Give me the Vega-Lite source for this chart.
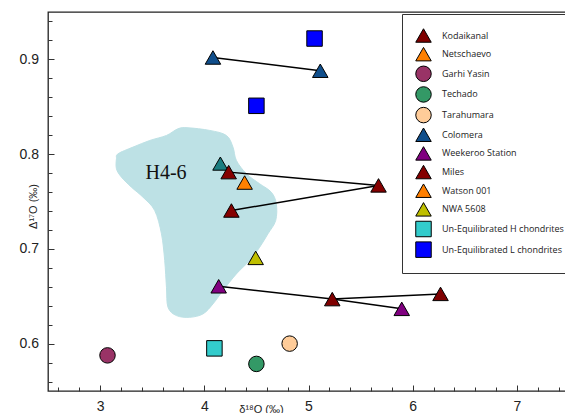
{
  "$schema": "https://vega.github.io/schema/vega-lite/v6.json",
  "width": 521,
  "height": 379,
  "autosize": {"type": "none"},
  "padding": {"left": 48, "top": 12, "right": 0, "bottom": 22},
  "background": "white",
  "datasets": {
    "blob": [
      {"i": 1, "x": 3.157, "y": 0.7951}, {"i": 2, "x": 3.173, "y": 0.8004}, {"i": 3, "x": 3.316, "y": 0.8074},
      {"i": 4, "x": 3.477, "y": 0.8144}, {"i": 5, "x": 3.637, "y": 0.8197}, {"i": 6, "x": 3.748, "y": 0.8268},
      {"i": 7, "x": 3.844, "y": 0.8278}, {"i": 8, "x": 4.052, "y": 0.825}, {"i": 9, "x": 4.212, "y": 0.8197},
      {"i": 10, "x": 4.275, "y": 0.8074}, {"i": 11, "x": 4.308, "y": 0.7933}, {"i": 12, "x": 4.404, "y": 0.7793},
      {"i": 13, "x": 4.531, "y": 0.7687}, {"i": 14, "x": 4.643, "y": 0.7598}, {"i": 15, "x": 4.691, "y": 0.7476},
      {"i": 16, "x": 4.685, "y": 0.7299}, {"i": 17, "x": 4.611, "y": 0.7159}, {"i": 18, "x": 4.531, "y": 0.7017},
      {"i": 19, "x": 4.435, "y": 0.6877}, {"i": 20, "x": 4.308, "y": 0.6736}, {"i": 21, "x": 4.179, "y": 0.656},
      {"i": 22, "x": 4.083, "y": 0.6419}, {"i": 23, "x": 3.988, "y": 0.6314}, {"i": 24, "x": 3.86, "y": 0.6278},
      {"i": 25, "x": 3.733, "y": 0.6296}, {"i": 26, "x": 3.652, "y": 0.6383}, {"i": 27, "x": 3.637, "y": 0.6595},
      {"i": 28, "x": 3.62, "y": 0.6877}, {"i": 29, "x": 3.589, "y": 0.7159}, {"i": 30, "x": 3.524, "y": 0.7405},
      {"i": 31, "x": 3.412, "y": 0.7545}, {"i": 32, "x": 3.301, "y": 0.7651}, {"i": 33, "x": 3.205, "y": 0.7757},
      {"i": 34, "x": 3.157, "y": 0.7845}
    ],
    "labels": [{"text": "H4-6", "x": 3.633, "y": 0.774}],
    "segments": [
      {"x": 4.083, "y": 0.902, "x2": 5.113, "y2": 0.888},
      {"x": 4.234, "y": 0.781, "x2": 5.672, "y2": 0.767},
      {"x": 4.26, "y": 0.7405, "x2": 5.672, "y2": 0.767},
      {"x": 4.138, "y": 0.6605, "x2": 5.228, "y2": 0.647},
      {"x": 5.228, "y": 0.647, "x2": 6.267, "y2": 0.6525},
      {"x": 5.228, "y": 0.647, "x2": 5.895, "y2": 0.6367}
    ],
    "extra": [{"name": "Unlabelled", "x": 4.154, "y": 0.79}],
    "points": [
      {"name": "Colomera", "x": 4.083, "y": 0.902},
      {"name": "Colomera", "x": 5.113, "y": 0.888},
      {"name": "Miles", "x": 4.234, "y": 0.781},
      {"name": "Netschaevo", "x": 4.387, "y": 0.77},
      {"name": "Miles", "x": 4.26, "y": 0.7405},
      {"name": "Miles", "x": 5.672, "y": 0.767},
      {"name": "NWA 5608", "x": 4.493, "y": 0.6905},
      {"name": "Weekeroo Station", "x": 4.138, "y": 0.6605},
      {"name": "Kodaikanal", "x": 5.228, "y": 0.647},
      {"name": "Kodaikanal", "x": 6.267, "y": 0.6525},
      {"name": "Weekeroo Station", "x": 5.895, "y": 0.6367},
      {"name": "Un-Equilibrated L chondrites", "x": 5.058, "y": 0.922},
      {"name": "Un-Equilibrated L chondrites", "x": 4.5, "y": 0.851},
      {"name": "Un-Equilibrated H chondrites", "x": 4.097, "y": 0.595},
      {"name": "Garhi Yasin", "x": 3.071, "y": 0.5876},
      {"name": "Techado", "x": 4.5, "y": 0.5786},
      {"name": "Tarahumara", "x": 4.819, "y": 0.6}
    ]
  },
  "encoding": {
    "x": {
      "field": "x", "type": "quantitative",
      "scale": {"domain": [2.5, 7.5], "nice": false, "zero": false},
      "axis": {
        "title": "δ¹⁸O (‰)",
        "values": [2.6, 2.8, 3, 3.2, 3.4, 3.6, 3.8, 4, 4.2, 4.4, 4.6, 4.8, 5, 5.2, 5.4, 5.6, 5.8, 6, 6.2, 6.4, 6.6, 6.8, 7, 7.2, 7.4],
        "labelExpr": "abs(datum.value - round(datum.value)) < 0.001 ? format(datum.value, 'd') : ''",
        "tickSize": {"condition": {"test": "abs(datum.value - round(datum.value)) < 0.001", "value": -6}, "value": -4},
        "labelPadding": 14,
        "titleX": 213, "titleY": 18, "titleAlign": "center", "titleBaseline": "middle"
      }
    },
    "y": {
      "field": "y", "type": "quantitative",
      "scale": {"domain": [0.55, 0.95], "nice": false, "zero": false},
      "axis": {
        "title": "Δ¹⁷O (‰)",
        "values": [0.56, 0.58, 0.6, 0.62, 0.64, 0.66, 0.68, 0.7, 0.72, 0.74, 0.76, 0.78, 0.8, 0.82, 0.84, 0.86, 0.88, 0.9, 0.92, 0.94],
        "labelExpr": "abs(datum.value * 10 - round(datum.value * 10)) < 0.001 ? format(datum.value, '.1f') : ''",
        "tickSize": {"condition": {"test": "abs(datum.value * 10 - round(datum.value * 10)) < 0.001", "value": -6}, "value": -4},
        "labelPadding": 15.5,
        "titleX": -15, "titleY": 194, "titleAlign": "center", "titleBaseline": "middle", "titleAngle": -90
      }
    }
  },
  "layer": [
    {
      "data": {"name": "blob"},
      "mark": {"type": "line", "fill": "#bde1e5", "stroke": "#bde1e5", "strokeWidth": 1, "interpolate": "cardinal-closed"},
      "encoding": {"order": {"field": "i", "type": "quantitative"}}
    },
    {
      "data": {"name": "labels"},
      "mark": {"type": "text", "font": "Liberation Serif", "fontSize": 20, "align": "center", "baseline": "alphabetic", "color": "#111"},
      "encoding": {"text": {"field": "text"}}
    },
    {
      "data": {"name": "segments"},
      "mark": {"type": "rule", "color": "#000", "strokeWidth": 1.5},
      "encoding": {"x2": {"field": "x2"}, "y2": {"field": "y2"}}
    },
    {
      "data": {"name": "extra"},
      "mark": {"type": "point", "filled": true, "fill": "#1a7d80", "stroke": "#000", "strokeWidth": 1, "opacity": 1, "size": 230, "shape": "M0,-0.87L1,0.87L-1,0.87Z"}
    },
    {
      "data": {"name": "points"},
      "mark": {"type": "point", "filled": true, "stroke": "#000", "opacity": 1, "size": 240},
      "encoding": {
        "color": {
          "field": "name", "type": "nominal",
          "scale": {
            "domain": ["Kodaikanal", "Netschaevo", "Garhi Yasin", "Techado", "Tarahumara", "Colomera", "Weekeroo Station", "Miles", "Watson 001", "NWA 5608", "Un-Equilibrated H chondrites", "Un-Equilibrated L chondrites"],
            "range": ["#7f0000", "#ff8000", "#993366", "#339966", "#ffcc99", "#104e8b", "#800080", "#850000", "#ff7f00", "#bfbf00", "#33cccc", "#0000ff"]
          },
          "legend": {
            "title": null,
            "orient": "none", "legendX": 354, "legendY": 2,
            "padding": 13, "rowPadding": -0.35, "labelOffset": 10,
            "symbolSize": 240,
            "fillColor": "white", "strokeColor": "#333",
            "labelFont": "Open Sans", "labelFontSize": 9, "labelColor": "#222", "labelLimit": 300,
            "encode": {"symbols": {"update": {"stroke": {"value": "black"}, "strokeWidth": {"signal": "indexof(['Garhi Yasin','Techado','Tarahumara','Un-Equilibrated H chondrites','Un-Equilibrated L chondrites'], datum.value) >= 0 ? 2 : 1"}, "opacity": {"value": 1}}}}
          }
        },
        "shape": {
          "field": "name", "type": "nominal",
          "scale": {
            "domain": ["Kodaikanal", "Netschaevo", "Garhi Yasin", "Techado", "Tarahumara", "Colomera", "Weekeroo Station", "Miles", "Watson 001", "NWA 5608", "Un-Equilibrated H chondrites", "Un-Equilibrated L chondrites"],
            "range": ["M0,-0.87L1,0.87L-1,0.87Z", "M0,-0.87L1,0.87L-1,0.87Z", "circle", "circle", "circle", "M0,-0.87L1,0.87L-1,0.87Z", "M0,-0.87L1,0.87L-1,0.87Z", "M0,-0.87L1,0.87L-1,0.87Z", "M0,-0.87L1,0.87L-1,0.87Z", "M0,-0.87L1,0.87L-1,0.87Z", "square", "square"]
          },
          "legend": {
            "title": null,
            "orient": "none", "legendX": 354, "legendY": 2,
            "padding": 13, "rowPadding": -0.35, "labelOffset": 10,
            "symbolSize": 240,
            "fillColor": "white", "strokeColor": "#333",
            "labelFont": "Open Sans", "labelFontSize": 9, "labelColor": "#222", "labelLimit": 300,
            "encode": {"symbols": {"update": {"stroke": {"value": "black"}, "strokeWidth": {"signal": "indexof(['Garhi Yasin','Techado','Tarahumara','Un-Equilibrated H chondrites','Un-Equilibrated L chondrites'], datum.value) >= 0 ? 2 : 1"}, "opacity": {"value": 1}}}}
          }
        },
        "strokeWidth": {
          "field": "name", "type": "nominal",
          "scale": {
            "domain": ["Kodaikanal", "Netschaevo", "Garhi Yasin", "Techado", "Tarahumara", "Colomera", "Weekeroo Station", "Miles", "Watson 001", "NWA 5608", "Un-Equilibrated H chondrites", "Un-Equilibrated L chondrites"],
            "range": [1, 1, 2, 2, 2, 1, 1, 1, 1, 1, 2, 2]
          },
          "legend": null
        }
      }
    }
  ],
  "config": {
    "view": {"stroke": "#222", "strokeWidth": 1.3},
    "axis": {
      "grid": false,
      "domain": false,
      "tickColor": "#333",
      "tickWidth": 1,
      "labelFont": "Liberation Sans",
      "labelFontSize": 14,
      "labelColor": "#222",
      "titleFont": "Liberation Sans",
      "titleFontSize": 11,
      "titleFontWeight": "normal",
      "titleColor": "#222"
    }
  }
}
